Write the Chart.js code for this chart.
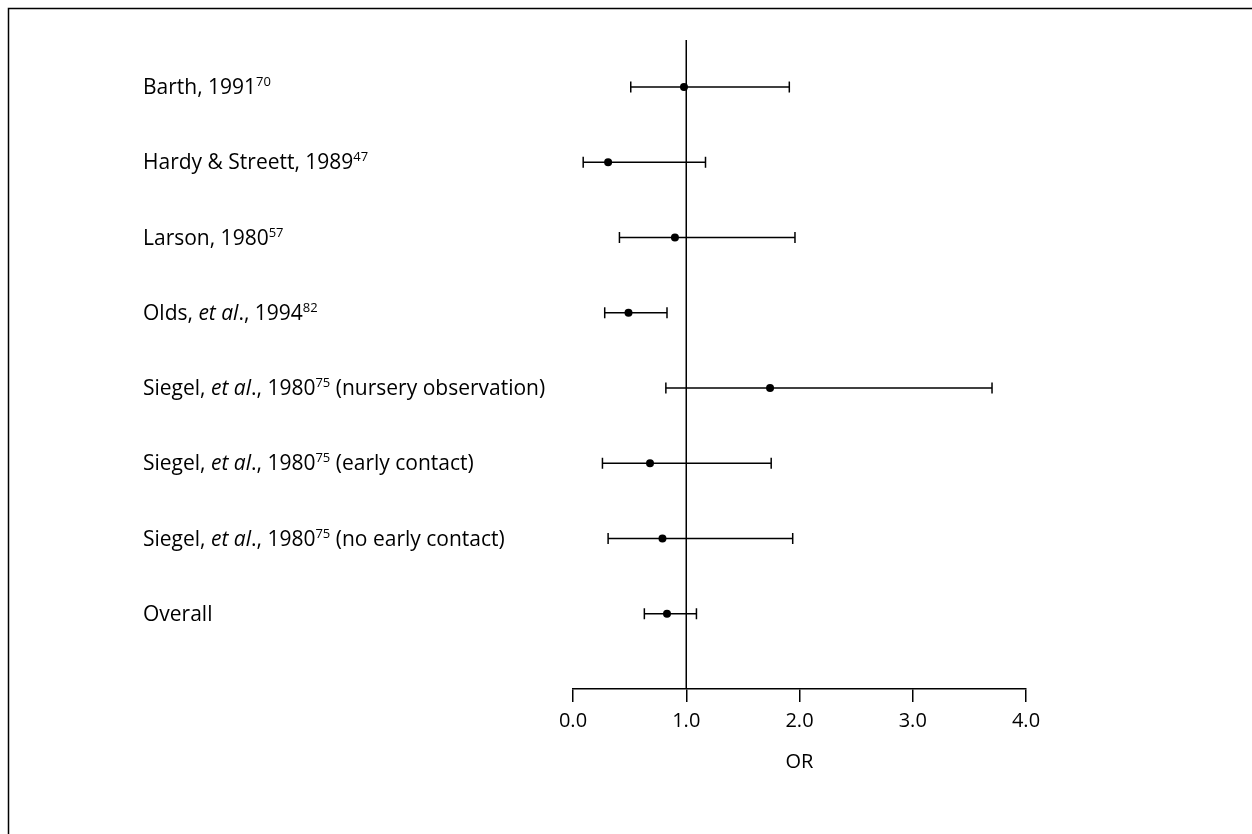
<!DOCTYPE html>
<html><head><meta charset="utf-8">
<script src="https://cdn.jsdelivr.net/npm/chart.js@4.4.0/dist/chart.umd.min.js"></script>
<style>html,body{margin:0;padding:0;background:#fff;}canvas{display:block;}</style>
</head><body>
<canvas id="c" width="1252" height="834"></canvas>
<script>
// ---- data ----
const studyLabels = [
  [['Barth, 1991','n'],['70','s']],
  [['Hardy & Streett, 1989','n'],['47','s']],
  [['Larson, 1980','n'],['57','s']],
  [['Olds, ','n'],['et al','i'],['., 1994','n'],['82','s']],
  [['Siegel, ','n'],['et al','i'],['., 1980','n'],['75','s'],[' (nursery observation)','n']],
  [['Siegel, ','n'],['et al','i'],['., 1980','n'],['75','s'],[' (early contact)','n']],
  [['Siegel, ','n'],['et al','i'],['., 1980','n'],['75','s'],[' (no early contact)','n']],
  [['Overall','n']]
];
const lowerCI  = [0.51, 0.09, 0.41, 0.28, 0.82, 0.26, 0.31, 0.63];
const estimate = [0.98, 0.31, 0.90, 0.49, 1.74, 0.68, 0.79, 0.83];
const upperCI  = [1.91, 1.17, 1.96, 0.83, 3.70, 1.75, 1.94, 1.09];
const xTickValues = [0, 1, 2, 3, 4];
const xAxisTitle = 'OR';
const nullValue = 1;

// ---- styling ----
const FONT = '"Open Sans"';
const FS = 21;
const AXFS = 20;
const Y_MIN = -0.625, Y_MAX = 8;

const ciSets = lowerCI.map((lo, i) => ({
  type: 'line',
  data: [{x: lo, y: i}, {x: upperCI[i], y: i}],
  borderColor: '#000', borderWidth: 1.5,
  pointStyle: 'line', rotation: 90, pointRadius: 5.5,
  pointBorderColor: '#000', pointBorderWidth: 1.5, pointBackgroundColor: '#000',
  fill: false, order: 2
}));
const nullLine = {
  type: 'line',
  data: [{x: nullValue, y: Y_MIN}, {x: nullValue, y: Y_MAX}],
  borderColor: '#000', borderWidth: 1.5, pointRadius: 0, fill: false, order: 3
};
const pointSet = {
  type: 'scatter',
  data: estimate.map((v, i) => ({x: v, y: i})),
  pointStyle: 'circle', pointRadius: 4,
  backgroundColor: '#000', borderColor: '#000', borderWidth: 0, order: 1
};

const framePlugin = {
  id: 'frame',
  afterDraw(chart) {
    const ctx = chart.ctx;
    ctx.save();
    ctx.strokeStyle = '#000';
    ctx.lineWidth = 1.5;
    ctx.beginPath();
    ctx.moveTo(1252, 8.5); ctx.lineTo(8.5, 8.5); ctx.lineTo(8.5, 834);
    ctx.stroke();
    ctx.restore();
  }
};

const labelPlugin = {
  id: 'studyLabels',
  afterDraw(chart) {
    const ctx = chart.ctx;
    const ys = chart.scales.y;
    ctx.save();
    ctx.fillStyle = '#000';
    ctx.textBaseline = 'alphabetic';
    ctx.textAlign = 'left';
    studyLabels.forEach((parts, i) => {
      const yc = ys.getPixelForValue(i);
      const base = yc + 7;
      let x = 143;
      parts.forEach(([txt, st]) => {
        if (st === 's') {
          ctx.font = `${Math.round(FS * 0.62)}px ${FONT}`;
          ctx.fillText(txt, x, base - 8);
        } else if (st === 'i') {
          ctx.font = `italic ${FS}px ${FONT}`;
          ctx.fillText(txt, x, base);
        } else {
          ctx.font = `${FS}px ${FONT}`;
          ctx.fillText(txt, x, base);
        }
        x += ctx.measureText(txt).width;
      });
    });
    ctx.restore();
  }
};

new Chart(document.getElementById('c'), {
  type: 'scatter',
  data: { datasets: [pointSet, ...ciSets, nullLine] },
  options: {
    responsive: false,
    animation: false,
    events: [],
    layout: { padding: { left: 573, right: 226, top: 40, bottom: 55 } },
    plugins: { legend: { display: false }, tooltip: { enabled: false } },
    scales: {
      x: {
        type: 'linear', min: 0, max: 4,
        afterBuildTicks: (s) => { s.ticks = xTickValues.map(v => ({value: v})); },
        afterFit: (s) => { s.height = 90; s.paddingLeft = 0; s.paddingRight = 0; },
        ticks: { callback: (v) => Number(v).toFixed(1), color: '#000', padding: 7,
                 font: { family: 'Open Sans', size: AXFS }, maxRotation: 0 },
        grid: { drawOnChartArea: false, drawTicks: true, tickLength: 13, color: '#000', lineWidth: 1.5 },
        border: { display: true, color: '#000', width: 1.5 },
        title: { display: true, text: xAxisTitle, color: '#000',
                 font: { family: 'Open Sans', size: AXFS }, padding: { top: 4, bottom: 5 } }
      },
      y: { type: 'linear', min: Y_MIN, max: Y_MAX, reverse: true, display: false }
    }
  },
  plugins: [framePlugin, labelPlugin]
});
</script>
</body></html>
